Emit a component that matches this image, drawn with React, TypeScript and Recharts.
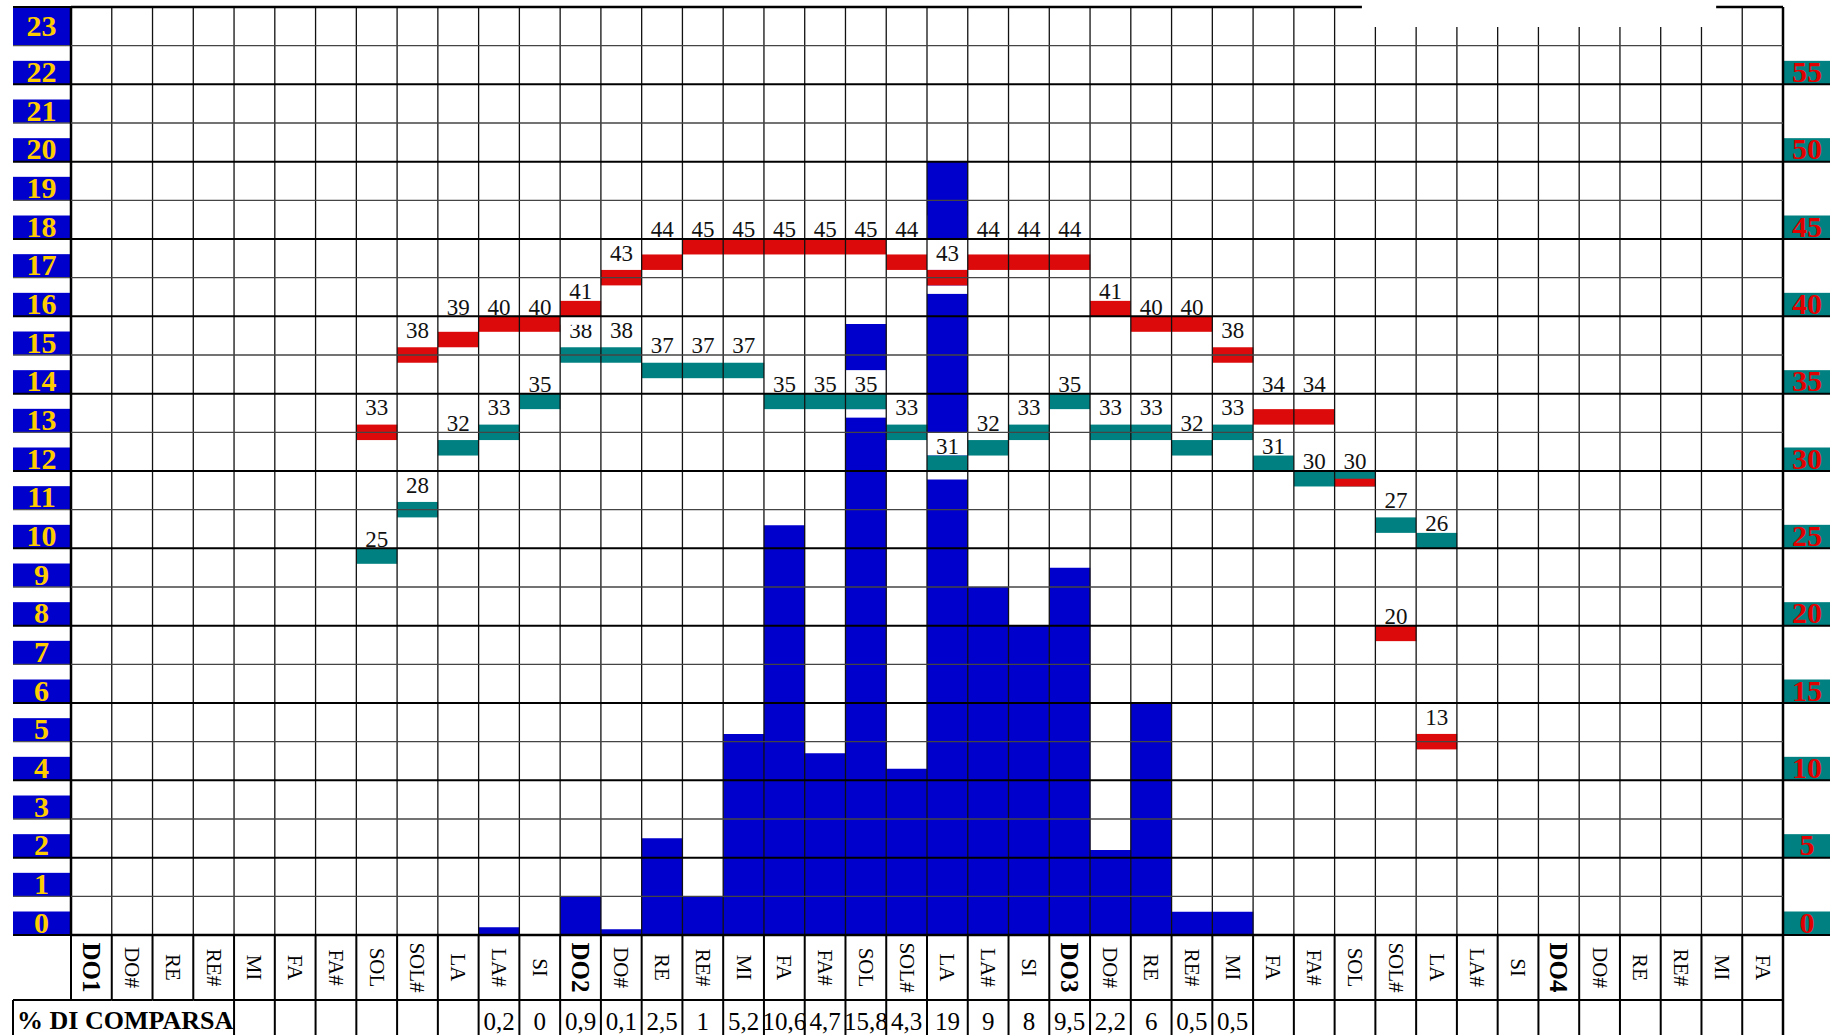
import React from 'react';
import { ComposedChart, Bar, XAxis, YAxis, ReferenceLine } from 'recharts';

// ---------- data ----------
const noteNames = [
  'DO1', 'DO#', 'RE', 'RE#', 'MI', 'FA', 'FA#', 'SOL', 'SOL#', 'LA', 'LA#', 'SI',
  'DO2', 'DO#', 'RE', 'RE#', 'MI', 'FA', 'FA#', 'SOL', 'SOL#', 'LA', 'LA#', 'SI',
  'DO3', 'DO#', 'RE', 'RE#', 'MI', 'FA', 'FA#', 'SOL', 'SOL#', 'LA', 'LA#', 'SI',
  'DO4', 'DO#', 'RE', 'RE#', 'MI', 'FA',
];

const percentLabels = [
  '', '', '', '', '', '', '', '', '', '', '0,2', '0',
  '0,9', '0,1', '2,5', '1', '5,2', '10,6', '4,7', '15,8', '4,3', '19', '9', '8',
  '9,5', '2,2', '6', '0,5', '0,5', '', '', '', '', '', '', '',
  '', '', '', '', '', '',
];

const blueValues = [
  0, 0, 0, 0, 0, 0, 0, 0, 0, 0, 0.2, 0,
  1, 0.15, 2.5, 1, 5.2, 10.6, 4.7, 15.8, 4.3, 20, 9, 8,
  9.5, 2.2, 6, 0.6, 0.6, 0, 0, 0, 0, 0, 0, 0,
  0, 0, 0, 0, 0, 0,
];

const redValues: (number | null)[] = [
  null, null, null, null, null, null, null, 33, 38, 39, 40, 40,
  41, 43, 44, 45, 45, 45, 45, 45, 44, 43, 44, 44,
  44, 41, 40, 40, 38, 34, 34, 30, 20, 13, null, null,
  null, null, null, null, null, null,
];

const tealValues: (number | null)[] = [
  null, null, null, null, null, null, null, 25, 28, 32, 33, 35,
  38, 38, 37, 37, 37, 35, 35, 35, 33, 31, 32, 33,
  35, 33, 33, 32, 33, 31, 30, 30, 27, 26, null, null,
  null, null, null, null, null, null,
];

const leftTicks = [0, 1, 2, 3, 4, 5, 6, 7, 8, 9, 10, 11, 12, 13, 14, 15, 16, 17, 18, 19, 20, 21, 22, 23];
const rightTicks = [0, 5, 10, 15, 20, 25, 30, 35, 40, 45, 50, 55];
const leftDomain = [0, 24];
const rightDomain = [0, 60];
const gridRows = [0, 1, 2, 3, 4, 5, 6, 7, 8, 9, 10, 11, 12, 13, 14, 15, 16, 17, 18, 19, 20, 21, 22, 23, 24];
const gridCols = Array.from({ length: noteNames.length + 1 }, (_, i) => i);

// artifact: missing piece of the top border (in data units)
const GAP_X1 = 31.67;
const GAP_X2 = 40.36;
const GAP_Y = 23.48;

// ---------- layout ----------
const W = 1830;
const H = 1035;
const PLOT_TOP = 7;
const LEFT_W = 71;
const RIGHT_W = 47;
const XAXIS_H = 100;
const PLOT_BOTTOM = H - XAXIS_H;
const N = noteNames.length;
const COL_W = (W - LEFT_W - RIGHT_W) / N;
const LABEL_ROW_H = 65;
const TABLE_FIRST_COL = 4;
const FONT = '"Liberation Serif", "Times New Roman", serif';

const BLUE = '#0000CD';
const TEAL = '#008080';
const RED = '#DC0A0A';
const YELLOW = '#FFCC00';
const AXIS_RED = '#E00000';

const rows = noteNames.map((n, i) => ({
  key: String(i),
  pos: i + 0.5,
  blue: blueValues[i],
  redV: redValues[i],
  tealV: tealValues[i],
  red: redValues[i] != null ? [(redValues[i] as number) - 1, redValues[i]] : null,
  teal: tealValues[i] != null ? [(tealValues[i] as number) - 1, tealValues[i]] : null,
}));

// label slot: labels sit at fixed sub-row positions above the marker
function labelOffset(v: number) {
  const base = Math.floor(v / 2.5) * 2.5;
  const c = [base + 0.1, base + 1.1, base + 2.6, base + 3.6];
  for (const s of c) if (s >= v - 0.01) return s - v;
  return 0.1;
}

const makeMarker = (color: string, valueKey: string, otherKey: string, yieldsOnTie: boolean) => (props: any) => {
  const { x, y, width, height, payload } = props;
  const v = payload ? payload[valueKey] : null;
  if (v == null || !isFinite(y) || !isFinite(height)) return <g />;
  const unit = Math.abs(height);
  const yTop = Math.min(y, y + height);
  if (yieldsOnTie && payload[otherKey] === v) {
    return <rect x={x} y={yTop + unit / 2} width={width} height={unit / 2} fill={color} />;
  }
  const baseline = yTop - labelOffset(v) * unit;
  const boxTop = baseline - 22;
  return (
    <g>
      <rect x={x} y={boxTop} width={width} height={yTop - boxTop} fill="#fff" />
      <rect x={x} y={yTop + unit} width={width} height={8.5} fill="#fff" />
      <rect x={x} y={yTop} width={width} height={unit} fill={color} />
      <text x={x + width / 2} y={baseline} textAnchor="middle" fontSize={23} fontFamily={FONT} fill="#111">
        {v}
      </text>
    </g>
  );
};

const TealShape = makeMarker(TEAL, 'tealV', 'redV', false);
const RedShape = makeMarker(RED, 'redV', 'tealV', true);

const LeftTick = (props: any) => {
  const { y, payload } = props;
  const v = payload.value;
  const isTop = v === leftTicks[leftTicks.length - 1];
  const boxTop = isTop ? PLOT_TOP : y - 23.5;
  const even = v % 2 === 0;
  return (
    <g>
      <rect x={13} y={boxTop} width={57} height={y - boxTop} fill={BLUE} />
      <line x1={13} x2={LEFT_W} y1={y} y2={y} stroke={even ? '#000' : '#555'} strokeWidth={even ? 2 : 1.3} />
      {isTop && <line x1={13} x2={LEFT_W} y1={PLOT_TOP} y2={PLOT_TOP} stroke="#000" strokeWidth={2} />}
      <text
        x={41.5}
        y={isTop ? (boxTop + y) / 2 + 10 : y - 2.5}
        textAnchor="middle"
        fill={YELLOW}
        fontWeight="bold"
        fontSize={30}
        fontFamily={FONT}
      >
        {v}
      </text>
    </g>
  );
};

const RightTick = (props: any) => {
  const { y, payload } = props;
  const x0 = W - RIGHT_W;
  return (
    <g>
      <rect x={x0} y={y - 23.5} width={RIGHT_W} height={23.5} fill={TEAL} />
      <line x1={x0} x2={W} y1={y} y2={y} stroke="#000" strokeWidth={2} />
      <text x={x0 + 24} y={y - 2.5} textAnchor="middle" fill={AXIS_RED} fontWeight="bold" fontSize={30} fontFamily={FONT}>
        {payload.value}
      </text>
    </g>
  );
};

const CatTick = (props: any) => {
  const { x, payload } = props;
  const i = Number(payload.value);
  const name = noteNames[i];
  const bold = /^DO\d$/.test(name);
  const left = x - COL_W / 2;
  const right = x + COL_W / 2;
  const yA = PLOT_BOTTOM;
  const yB = PLOT_BOTTOM + LABEL_ROW_H;
  const yC = H;
  return (
    <g>
      <line x1={left} x2={left} y1={yA} y2={yB} stroke="#000" strokeWidth={2} />
      {i >= TABLE_FIRST_COL && <line x1={left} x2={left} y1={yB} y2={yC} stroke="#000" strokeWidth={2} />}
      {i === N - 1 && <line x1={right} x2={right} y1={yA} y2={yC} stroke="#000" strokeWidth={2.5} />}
      <line x1={left} x2={right} y1={yB} y2={yB} stroke="#000" strokeWidth={2} />
      <text
        transform={`translate(${x},${(yA + yB) / 2}) rotate(90)`}
        textAnchor="middle"
        dominantBaseline="central"
        fontSize={bold ? 25 : 21}
        fontWeight={bold ? 'bold' : 'normal'}
        fontFamily={FONT}
        fill="#000"
      >
        {name}
      </text>
      {percentLabels[i] !== '' && (
        <text x={x} y={1030} textAnchor="middle" fontSize={25} fontFamily={FONT} fill="#000">
          {percentLabels[i]}
        </text>
      )}
      {i === 0 && (
        <g>
          <line x1={13} x2={left} y1={yB} y2={yB} stroke="#000" strokeWidth={2} />
          <line x1={13} x2={13} y1={yB} y2={yC} stroke="#000" strokeWidth={2} />
          <text x={17} y={1029} fontSize={26} fontWeight="bold" fontFamily={FONT} fill="#000">
            % DI COMPARSA
          </text>
        </g>
      )}
    </g>
  );
};

function BaseChart() {
  return (
    <ComposedChart
      width={W}
      height={H}
      data={rows}
      margin={{ top: PLOT_TOP, right: 0, bottom: 0, left: 0 }}
      barCategoryGap={0}
      barGap={0}
    >
      <XAxis
        xAxisId="a"
        dataKey="key"
        type="category"
        interval={0}
        height={XAXIS_H}
        axisLine={false}
        tickLine={false}
        tickSize={0}
        tickMargin={0}
        tick={CatTick}
      />
      <XAxis xAxisId="b" dataKey="key" type="category" hide />
      <XAxis xAxisId="c" dataKey="key" type="category" hide />
      <YAxis
        yAxisId="L"
        orientation="left"
        width={LEFT_W}
        domain={leftDomain}
        ticks={leftTicks}
        interval={0}
        axisLine={false}
        tickLine={false}
        tick={LeftTick}
        allowDataOverflow
      />
      <YAxis
        yAxisId="R"
        orientation="right"
        width={RIGHT_W}
        domain={rightDomain}
        ticks={rightTicks}
        interval={0}
        axisLine={false}
        tickLine={false}
        tick={RightTick}
        allowDataOverflow
      />
      <Bar xAxisId="a" yAxisId="L" dataKey="blue" fill={BLUE} isAnimationActive={false} />
      <Bar xAxisId="b" yAxisId="R" dataKey="teal" shape={TealShape} isAnimationActive={false} />
      <Bar xAxisId="c" yAxisId="R" dataKey="red" shape={RedShape} isAnimationActive={false} />
    </ComposedChart>
  );
}

function GridOverlay() {
  return (
    <ComposedChart
      width={W}
      height={H}
      data={rows}
      margin={{ top: PLOT_TOP, right: RIGHT_W, bottom: XAXIS_H, left: LEFT_W }}
    >
      <XAxis xAxisId="g" type="number" dataKey="pos" domain={[0, N]} hide allowDataOverflow />
      <YAxis yAxisId="g" type="number" domain={leftDomain} hide allowDataOverflow />
      {gridCols.map((c) => {
        const edge = c === 0 || c === N;
        const inGap = c > GAP_X1 && c < GAP_X2;
        const top = inGap ? GAP_Y : leftDomain[1];
        return (
          <ReferenceLine
            key={'v' + c}
            xAxisId="g"
            yAxisId="g"
            segment={[{ x: c, y: 0 }, { x: c, y: top }]}
            stroke={edge ? '#000' : '#111'}
            strokeWidth={edge ? 2.5 : 1.3}
            ifOverflow="visible"
          />
        );
      })}
      {gridRows.map((r) => {
        const even = r % 2 === 0;
        const edge = r === 0 || r === leftDomain[1];
        const sw = edge ? 2.5 : even ? 2 : 1.3;
        const col = even ? '#000' : '#444';
        if (r === leftDomain[1]) {
          return (
            <g key={'h' + r}>
              <ReferenceLine
                xAxisId="g"
                yAxisId="g"
                segment={[{ x: 0, y: r }, { x: GAP_X1, y: r }]}
                stroke={col}
                strokeWidth={sw}
                ifOverflow="visible"
              />
              <ReferenceLine
                xAxisId="g"
                yAxisId="g"
                segment={[{ x: GAP_X2, y: r }, { x: N, y: r }]}
                stroke={col}
                strokeWidth={sw}
                ifOverflow="visible"
              />
            </g>
          );
        }
        return (
          <ReferenceLine
            key={'h' + r}
            xAxisId="g"
            yAxisId="g"
            y={r}
            stroke={col}
            strokeWidth={sw}
            ifOverflow="visible"
          />
        );
      })}
    </ComposedChart>
  );
}

export default function App() {
  return (
    <div style={{ position: 'absolute', left: 0, top: 0, width: W, height: H, background: '#fff', fontFamily: FONT }}>
      <div style={{ position: 'absolute', left: 0, top: 0 }}>
        <BaseChart />
      </div>
      <div style={{ position: 'absolute', left: 0, top: 0, pointerEvents: 'none' }}>
        <GridOverlay />
      </div>
    </div>
  );
}
